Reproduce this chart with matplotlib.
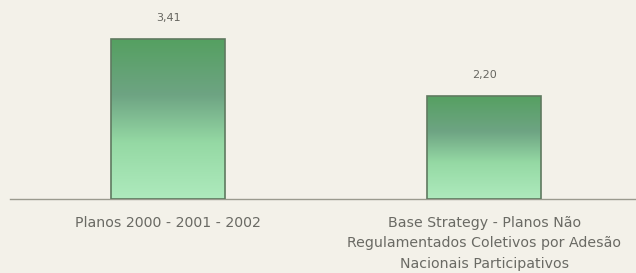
import numpy as np
import matplotlib
matplotlib.use("Agg")
import matplotlib.pyplot as plt
from matplotlib.colors import LinearSegmentedColormap

categories = ["Planos 2000 - 2001 - 2002",
              "Base Strategy - Planos Não\nRegulamentados Coletivos por Adesão\nNacionais Participativos"]
values = [3.41, 2.20]
value_labels = ["3,41", "2,20"]

bg = "#f3f1e9"
fig = plt.figure(figsize=(6.36, 2.73), dpi=100, facecolor=bg)
ax = fig.add_axes([10/636, (273-199)/273, 1 - 10/636, 199/273], facecolor=bg)

cmap = LinearSegmentedColormap.from_list(
    "g", [(0.0, "#aeeabd"), (0.35, "#95d9a4"), (0.65, "#6ea483"), (1.0, "#55a061")])

x = np.arange(len(values))
width = 0.36
bars = ax.bar(x, values, width=width, facecolor="none", edgecolor="#5f7a60", linewidth=1.2, zorder=3)
grad = np.linspace(0, 1, 256).reshape(-1, 1)
for b in bars:
    x0, y0 = b.get_x(), b.get_y()
    w, h = b.get_width(), b.get_height()
    im = ax.imshow(grad, extent=[x0, x0 + w, y0, y0 + h], origin="lower",
                   cmap=cmap, aspect="auto", zorder=2)
    im.set_clip_path(b)

for xi, v, lab in zip(x, values, value_labels):
    ax.text(xi, v + 0.45, lab, ha="center", va="center", fontsize=8, color="#666660",
            family="DejaVu Sans")

ax.set_xlim(-0.5, 1.48)
ax.set_ylim(0, 4.243)
ax.set_xticks(x)
ax.set_xticklabels(categories, fontsize=10.2, color="#6a6a64", family="DejaVu Sans",
                   linespacing=1.6)
ax.tick_params(axis="x", length=0, pad=12)
ax.set_yticks([])
for s in ["top", "right", "left"]:
    ax.spines[s].set_visible(False)
ax.spines["bottom"].set_color("#9a9a8e")
ax.spines["bottom"].set_linewidth(1.0)

fig.savefig("out.png", dpi=100, facecolor=bg)
